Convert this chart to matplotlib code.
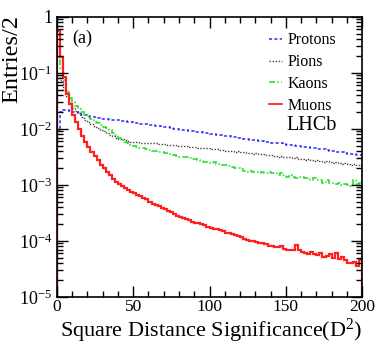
import numpy as np
import matplotlib
matplotlib.use('Agg')
import matplotlib.pyplot as plt
from matplotlib.lines import Line2D
from matplotlib.ticker import LogLocator, NullFormatter, MultipleLocator, FixedLocator, FixedFormatter

# ROOT-like look: Times-style font
plt.rcParams['font.family'] = ['Liberation Serif', 'DejaVu Serif']
plt.rcParams['mathtext.fontset'] = 'custom'
plt.rcParams['mathtext.rm'] = 'Liberation Serif'
plt.rcParams['mathtext.it'] = 'Liberation Serif:italic'

# histogram binning: 0..200, width 2
bin_width = 2
edges = np.arange(0, 200 + bin_width, bin_width)

protons = [
    0.009, 0.020, 0.022, 0.022, 0.021, 0.020, 0.020, 0.019, 0.018, 0.0175,
    0.017, 0.0165, 0.016, 0.0157, 0.0152, 0.015, 0.0147, 0.0145, 0.0143, 0.0145,
    0.0142, 0.0138, 0.0136, 0.0135, 0.013, 0.0128, 0.0126, 0.0124, 0.0122, 0.012,
    0.0117, 0.0118, 0.0114, 0.0112, 0.011, 0.0108, 0.0106, 0.0104, 0.0101, 0.0099,
    0.0097, 0.0095, 0.0094, 0.0093, 0.009, 0.0089, 0.0087, 0.0087, 0.0085, 0.0084,
    0.0082, 0.008, 0.0079, 0.0078, 0.0076, 0.0075, 0.0074, 0.0072, 0.0071, 0.0070,
    0.0068, 0.0066, 0.0065, 0.0064, 0.0064, 0.0062, 0.0061, 0.0060, 0.0058, 0.0058,
    0.0057, 0.0056, 0.0055, 0.0055, 0.0053, 0.0052, 0.0051, 0.0052, 0.0050, 0.0049,
    0.0048, 0.0047, 0.0047, 0.0046, 0.0045, 0.0044, 0.0043, 0.0043, 0.0042, 0.0041,
    0.0040, 0.0039, 0.0039, 0.0038, 0.0037, 0.0036, 0.0036, 0.0035, 0.0034, 0.0034,
]

pions = [
    0.09, 0.075, 0.05, 0.037, 0.029, 0.024, 0.021, 0.019, 0.0165, 0.0145,
    0.013, 0.012, 0.011, 0.0102, 0.0095, 0.009, 0.0084, 0.0079, 0.0074, 0.007,
    0.0067, 0.0065, 0.0062, 0.006, 0.0059, 0.0058, 0.0058, 0.0057, 0.0056, 0.0057,
    0.0056, 0.0055, 0.0055, 0.0054, 0.0053, 0.0054, 0.0052, 0.0052, 0.0051, 0.0050,
    0.0050, 0.0049, 0.0049, 0.0048, 0.0047, 0.0048, 0.0046, 0.0046, 0.0045, 0.0045,
    0.0044, 0.0043, 0.0044, 0.0042, 0.0042, 0.0041, 0.0041, 0.0040, 0.0039, 0.0040,
    0.0038, 0.0038, 0.0037, 0.0037, 0.0036, 0.0037, 0.0035, 0.0035, 0.0034, 0.0034,
    0.0034, 0.0033, 0.0032, 0.0033, 0.0032, 0.0031, 0.0031, 0.0030, 0.0031, 0.0029,
    0.0029, 0.0028, 0.0029, 0.0028, 0.0027, 0.0028, 0.0027, 0.0026, 0.0027, 0.0026,
    0.0025, 0.0026, 0.0025, 0.0024, 0.0025, 0.0024, 0.0023, 0.0024, 0.0023, 0.0023,
]

kaons = [
    0.19, 0.12, 0.075, 0.045, 0.035, 0.03, 0.026, 0.023, 0.02, 0.018,
    0.0165, 0.015, 0.0135, 0.0125, 0.0115, 0.011, 0.0105, 0.0095, 0.0086, 0.0078,
    0.0069, 0.0063, 0.0059, 0.0055, 0.0052, 0.0049, 0.0048, 0.0046, 0.0045, 0.0043,
    0.0042, 0.0041, 0.0040, 0.0039, 0.0038, 0.0037, 0.0036, 0.0035, 0.0034, 0.0033,
    0.0031, 0.0031, 0.0032, 0.0030, 0.0029, 0.0029, 0.0028, 0.0027, 0.0026, 0.0026,
    0.0025, 0.0026, 0.0024, 0.0024, 0.0023, 0.0023, 0.0022, 0.0021, 0.0020, 0.0020,
    0.0019, 0.0018, 0.0017, 0.0018, 0.0017, 0.0017, 0.0016, 0.0017, 0.0016, 0.0017,
    0.0016, 0.0016, 0.0015, 0.0016, 0.0015, 0.0014, 0.0015, 0.0014, 0.0013, 0.0014,
    0.0014, 0.0013, 0.0013, 0.0012, 0.0013, 0.0012, 0.0012, 0.0011, 0.0012, 0.0011,
    0.0011, 0.00105, 0.0011, 0.0010, 0.00105, 0.0010, 0.00095, 0.0012, 0.00105, 0.0011,
]

muons = [
    0.55, 0.19, 0.085, 0.042, 0.028, 0.018, 0.013, 0.0098, 0.0075, 0.0058,
    0.0047, 0.0039, 0.0033, 0.0028, 0.0023, 0.0020, 0.0017, 0.0015, 0.00125, 0.00112,
    0.00102, 0.00094, 0.00088, 0.00082, 0.00076, 0.00071, 0.00066, 0.00062, 0.00058, 0.00055,
    0.00050, 0.00046, 0.00044, 0.00042, 0.00039, 0.00037, 0.00034, 0.00033, 0.00030, 0.00028,
    0.00027, 0.00026, 0.00025, 0.00024, 0.00022, 0.00021, 0.00021, 0.00020, 0.00019, 0.00018,
    0.00017, 0.00016, 0.00016, 0.000155, 0.00015, 0.00014, 0.00014, 0.00013, 0.000125, 0.00012,
    0.000118, 0.00011, 0.000105, 0.0001, 0.0001, 0.000095, 0.000092, 0.000092, 0.000088, 0.000082,
    0.000082, 0.000079, 0.000078, 0.00008, 0.000072, 0.00007, 0.000068, 0.00007, 0.000085, 0.00007,
    0.000062, 0.00006, 0.000058, 0.000062, 0.000058, 0.000055, 0.00006, 0.000052, 0.000054, 0.000058,
    0.00005, 0.00006, 0.000048, 0.000052, 0.000045, 0.00004, 0.00004, 0.000042, 0.000036, 0.000045,
]

labels = ['Protons', 'Pions', 'Kaons', 'Muons']
y_ticks = [1e-5, 1e-4, 1e-3, 1e-2, 1e-1, 1]
y_ticklabels = ['10$^{-5}$', '10$^{-4}$', '10$^{-3}$', '10$^{-2}$', '10$^{-1}$', '1']

styles = [
    dict(color='#2a2aff', lw=1.1, ls=(0, (2, 1.5))),
    dict(color='#444444', lw=1.0, ls=(0, (1, 1.2))),
    dict(color='#22dd22', lw=1.1, ls=(0, (4, 1.5, 1, 1.5))),
    dict(color='#ff2020', lw=1.6, ls='-'),
]

fig = plt.figure(figsize=(3.82, 3.44), dpi=100)
ax = fig.add_axes([0.149, 0.137, 0.799, 0.814])

for vals, st in zip([protons, pions, kaons, muons], styles):
    ax.stairs(vals, edges, baseline=1e-7, **st)

ax.set_yscale('log')
ax.set_xlim(0, 200)
ax.set_ylim(1e-5, 1)

ax.xaxis.set_major_locator(MultipleLocator(50))
ax.xaxis.set_minor_locator(MultipleLocator(10))
ax.yaxis.set_major_locator(FixedLocator(y_ticks))
ax.yaxis.set_major_formatter(FixedFormatter(y_ticklabels))
ax.yaxis.set_minor_locator(LogLocator(base=10, subs=np.arange(2, 10)))
ax.yaxis.set_minor_formatter(NullFormatter())

ax.tick_params(which='both', direction='in', top=True, right=True, labelsize=13, width=1.0)
ax.tick_params(which='major', length=8)
ax.tick_params(which='minor', length=4)
ax.tick_params(axis='x', labelsize=12.5, pad=1.5)
for s in ax.spines.values():
    s.set_linewidth(1.2)

# axis titles ROOT-style: aligned to the end of the axis
fig.text(0.948, 0.02, 'Square Distance Significance(D$^2$)', fontsize=16,
         ha='right', va='baseline')
fig.text(0.03, 0.955, 'Entries/2', fontsize=17.5, rotation=90, ha='center', va='top')

handles = [Line2D([], [], color=st['color'], lw=min(st['lw'], 1.3), ls=st['ls']) for st in styles]
ax.legend(handles, labels, loc='upper left', frameon=False, fontsize=11.5,
          handlelength=0.8, handletextpad=0.35, labelspacing=0.36,
          bbox_to_anchor=(0.685, 0.956), borderaxespad=0.0, borderpad=0.2)

ax.text(0.836, 0.611, 'LHCb', transform=ax.transAxes, fontsize=14.5, ha='center', va='center')
ax.text(0.05, 0.925, '(a)', transform=ax.transAxes, fontsize=13, ha='left', va='center')

fig.savefig('out.png', dpi=100)
